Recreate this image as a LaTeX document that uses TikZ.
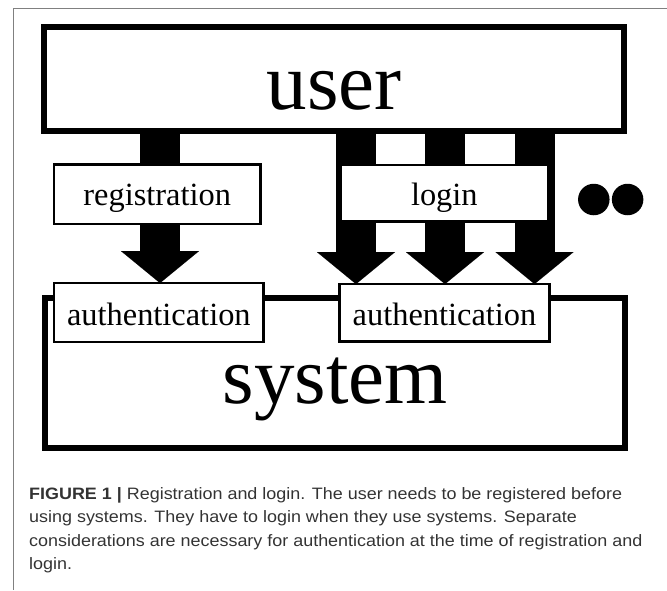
\documentclass[tikz,border=0pt]{standalone}
\usepackage{fontspec}
\setmainfont{Liberation Serif}
\newfontfamily\capfont[FakeStretch=1.087]{Liberation Sans}
\usetikzlibrary{arrows.meta,backgrounds}
\definecolor{framegray}{HTML}{808080}
\definecolor{captext}{HTML}{333333}
\tikzset{
  bigbox/.style={draw=black, line width=6pt, fill=white, inner sep=0pt, outer sep=0pt,
    font=\fontsize{81}{90}\selectfont},
  labelbox/.style={draw=black, line width=2.3pt, fill=white, inner sep=0pt, outer sep=0pt,
    font=\fontsize{32.4}{36}\selectfont},
  authbox/.style={labelbox, line width=2.7pt},
  blockarrow/.style={line width=40pt,
    -{Triangle[width=78pt,length=32pt,line width=0.01pt]}},
  dotmark/.style={circle, fill=black, inner sep=0pt, outer sep=0pt, minimum size=31.5pt},
}
\begin{document}
\begin{tikzpicture}[x=1pt,y=-1pt]
\useasboundingbox (0,0) rectangle (667,590);
% page frame
\draw[framegray, line width=1.2pt] (667,8.7) -- (13.5,8.7) -- (13.5,590);

% main boxes
\node[bigbox, minimum width=580.3pt, minimum height=104pt,
      text height=60pt, text depth=0.6pt] (user) at (334.2,79.3) {user};
\node[bigbox, minimum width=580pt, minimum height=149.7pt,
      text height=61pt, text depth=0.2pt] (system) at (335.2,372.9) {system};

% label boxes
\node[labelbox, minimum width=206.7pt, minimum height=59.4pt,
      text height=22pt, text depth=0.3pt] (reg) at (157.2,194.15) {registration};
\node[labelbox, minimum width=207.7pt, minimum height=56.4pt,
      text height=23.6pt, text depth=0.3pt] (login) at (444.3,193.35) {login};
\node[authbox, minimum width=209.6pt, minimum height=58.9pt,
      text height=25.3pt, text depth=0.3pt] (authL) at (158.85,312.5) {authentication};
\node[authbox, minimum width=209.7pt, minimum height=57.3pt,
      text height=24.9pt, text depth=0.3pt] (authR) at (444.5,312.7) {authentication};

% dots
\node[dotmark] (dot1) at (593.8,199.5) {};
\node[dotmark] (dot2) at (627.6,199.5) {};

% arrow columns
\coordinate (c1) at (160,0);
\coordinate (c2) at (356,0);
\coordinate (c3) at (445,0);
\coordinate (c4) at (534.5,0);

\begin{scope}[on background layer]
\draw[blockarrow] (user.south -| c1) -- (authL.north -| c1);
\draw[blockarrow] (user.south -| c2) -- (authR.north -| c2);
\draw[blockarrow] (user.south -| c3) -- (authR.north -| c3);
\draw[blockarrow] (user.south -| c4) -- (authR.north -| c4);
\end{scope}

% caption
\node[anchor=north west, align=left, inner sep=0pt, text=captext,
      font=\capfont\fontsize{16.5}{23.3}\selectfont] (cap) at (29,487.3)
  {\textbf{FIGURE 1 |} Registration and login. The user needs to be registered before\\
   using systems. They have to login when they use systems. Separate\\
   considerations are necessary for authentication at the time of registration and\\
   login.};
\end{tikzpicture}
\end{document}
